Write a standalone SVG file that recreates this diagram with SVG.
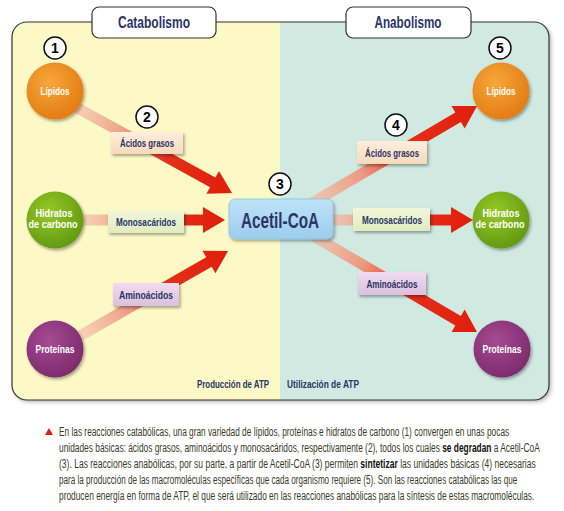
<svg xmlns="http://www.w3.org/2000/svg" width="564" height="511" viewBox="0 0 564 511">
<defs>
<style>
.navy{fill:#2b3566;font-family:"Liberation Sans",Arial,sans-serif;font-weight:bold}
.lbl{font-size:11px;text-anchor:middle}
.wt{fill:#ffffff;font-family:"Liberation Sans",Arial,sans-serif;font-weight:bold;font-size:10.5px;text-anchor:middle}
.num{fill:#000;font-family:"Liberation Sans",Arial,sans-serif;font-weight:bold;font-size:14px;text-anchor:middle}
.numc{fill:#fff;stroke:#111;stroke-width:1.5}
.cap{fill:#3a3a2c;font-family:"Liberation Sans",Arial,sans-serif;font-size:12px}
.tab{fill:#fff;stroke:#333;stroke-width:1.2}
</style>
<filter id="sh" x="-30%" y="-30%" width="160%" height="160%">
<feDropShadow dx="1.5" dy="2" stdDeviation="1.5" flood-color="#000" flood-opacity="0.35"/>
</filter>
<filter id="psh" x="-5%" y="-5%" width="110%" height="110%">
<feDropShadow dx="2" dy="2" stdDeviation="2" flood-color="#000" flood-opacity="0.3"/>
</filter>
<linearGradient id="arr" x1="0" y1="0" x2="1" y2="0">
<stop offset="0" stop-color="#f3c6b2" stop-opacity="0.7"/>
<stop offset="0.35" stop-color="#ec9a80"/>
<stop offset="0.6" stop-color="#e3301a"/>
<stop offset="1" stop-color="#e01e0a"/>
</linearGradient>
<radialGradient id="gOr" cx="0.4" cy="0.35" r="0.7">
<stop offset="0" stop-color="#f7a73a"/><stop offset="1" stop-color="#e27a10"/>
</radialGradient>
<radialGradient id="gGr" cx="0.4" cy="0.35" r="0.7">
<stop offset="0" stop-color="#98c826"/><stop offset="1" stop-color="#5f9812"/>
</radialGradient>
<radialGradient id="gPu" cx="0.4" cy="0.35" r="0.7">
<stop offset="0" stop-color="#a64a92"/><stop offset="1" stop-color="#7b2a6b"/>
</radialGradient>
<linearGradient id="gBl" x1="0" y1="0" x2="0" y2="1">
<stop offset="0" stop-color="#bfe3f7"/><stop offset="1" stop-color="#9bcdee"/>
</linearGradient>
<linearGradient id="gPe" x1="0" y1="0" x2="0" y2="1">
<stop offset="0" stop-color="#fdeedd"/><stop offset="1" stop-color="#f7d9ba"/>
</linearGradient>
<linearGradient id="gLg" x1="0" y1="0" x2="0" y2="1">
<stop offset="0" stop-color="#f1f6d9"/><stop offset="1" stop-color="#dfecbf"/>
</linearGradient>
<linearGradient id="gLv" x1="0" y1="0" x2="0" y2="1">
<stop offset="0" stop-color="#f0dcf0"/><stop offset="1" stop-color="#dcc0de"/>
</linearGradient>
<clipPath id="pc"><rect x="12" y="22" width="537" height="378" rx="15"/></clipPath>
</defs>

<g id="panel">
<rect x="12" y="22" width="537" height="378" rx="15" fill="#fff" filter="url(#psh)"/>
<g clip-path="url(#pc)">
<rect x="12" y="22" width="268" height="378" fill="#fdf9c6"/>
<rect x="280" y="22" width="269" height="378" fill="#d0eae2"/>
</g>
<rect x="12" y="22" width="537" height="378" rx="15" fill="none" stroke="#333" stroke-width="1.2"/>
</g>

<g id="tab-catabolismo">
<rect class="tab" x="92" y="7" width="124" height="31" rx="7"/>
<text class="navy" x="154" y="28" font-size="16" text-anchor="middle" textLength="72" lengthAdjust="spacingAndGlyphs">Catabolismo</text>
</g>
<g id="tab-anabolismo">
<rect class="tab" x="346" y="7" width="125" height="31" rx="7"/>
<text class="navy" x="408" y="28" font-size="16" text-anchor="middle" textLength="67" lengthAdjust="spacingAndGlyphs">Anabolismo</text>
</g>

<g id="connectors">
<polygon points="0,-5.5 160.6,-5.5 160.6,-13 182.6,0 160.6,13 160.6,5.5 0,5.5" fill="url(#arr)" transform="translate(72,105) rotate(28.8)"/>
<polygon points="0,-5.5 123,-5.5 123,-13 145,0 123,13 123,5.5 0,5.5" fill="url(#arr)" transform="translate(80,220)"/>
<polygon points="0,-5.5 150.9,-5.5 150.9,-13 172.9,0 150.9,13 150.9,5.5 0,5.5" fill="url(#arr)" transform="translate(78,337) rotate(-29.8)"/>
<polygon points="0,-5.5 183.3,-5.5 183.3,-13 205.3,0 183.3,13 183.3,5.5 0,5.5" fill="url(#arr)" transform="translate(300,210) rotate(-30.4)"/>
<polygon points="0,-5.5 131,-5.5 131,-13 153,0 131,13 131,5.5 0,5.5" fill="url(#arr)" transform="translate(320,220)"/>
<polygon points="0,-5.5 183.3,-5.5 183.3,-13 205.3,0 183.3,13 183.3,5.5 0,5.5" fill="url(#arr)" transform="translate(300,228) rotate(30.4)"/>
</g>

<g id="n1"><circle class="numc" cx="55" cy="48" r="11"/><text class="num" x="55" y="53">1</text></g>
<g id="n2"><circle class="numc" cx="147" cy="117" r="11"/><text class="num" x="147" y="122">2</text></g>
<g id="n3"><circle class="numc" cx="280" cy="184" r="11"/><text class="num" x="280" y="189">3</text></g>
<g id="n4"><circle class="numc" cx="396" cy="125" r="11"/><text class="num" x="396" y="130">4</text></g>
<g id="n5"><circle class="numc" cx="500" cy="48" r="11"/><text class="num" x="500" y="53">5</text></g>

<g id="lipidos-left"><circle cx="55" cy="91" r="28.5" fill="url(#gOr)" filter="url(#sh)"/><text class="wt" x="55" y="95" textLength="29" lengthAdjust="spacingAndGlyphs">Lípidos</text></g>
<g id="hidratos-left"><circle cx="55" cy="220" r="28.5" fill="url(#gGr)" filter="url(#sh)"/><text class="wt" x="54" y="217" textLength="37" lengthAdjust="spacingAndGlyphs">Hidratos</text><text class="wt" x="53" y="228" textLength="49" lengthAdjust="spacingAndGlyphs">de carbono</text></g>
<g id="proteinas-left"><circle cx="55" cy="349" r="28.5" fill="url(#gPu)" filter="url(#sh)"/><text class="wt" x="55" y="353" textLength="39" lengthAdjust="spacingAndGlyphs">Proteínas</text></g>

<g id="lipidos-right"><circle cx="501" cy="91" r="28.5" fill="url(#gOr)" filter="url(#sh)"/><text class="wt" x="501" y="95" textLength="29" lengthAdjust="spacingAndGlyphs">Lípidos</text></g>
<g id="hidratos-right"><circle cx="501" cy="220" r="28.5" fill="url(#gGr)" filter="url(#sh)"/><text class="wt" x="501" y="217" textLength="37" lengthAdjust="spacingAndGlyphs">Hidratos</text><text class="wt" x="500" y="228" textLength="49" lengthAdjust="spacingAndGlyphs">de carbono</text></g>
<g id="proteinas-right"><circle cx="502" cy="349" r="28.5" fill="url(#gPu)" filter="url(#sh)"/><text class="wt" x="502" y="353" textLength="39" lengthAdjust="spacingAndGlyphs">Proteínas</text></g>

<g id="acetil-coa"><rect x="229" y="199" width="104" height="40" rx="6" fill="url(#gBl)" stroke="#8cc0e0" stroke-width="0.8" filter="url(#sh)"/><text class="navy" x="280" y="228" font-size="22" text-anchor="middle" textLength="78" lengthAdjust="spacingAndGlyphs">Acetil-CoA</text></g>

<g id="acidos-left"><rect x="111" y="132" width="72" height="22" fill="url(#gPe)" filter="url(#sh)"/><text class="navy lbl" x="147" y="147" textLength="54" lengthAdjust="spacingAndGlyphs">Ácidos grasos</text></g>
<g id="mono-left"><rect x="108" y="211" width="76" height="22" fill="url(#gLg)" filter="url(#sh)"/><text class="navy lbl" x="146" y="226" textLength="60" lengthAdjust="spacingAndGlyphs">Monosacáridos</text></g>
<g id="amino-left"><rect x="113" y="283" width="66" height="23" fill="url(#gLv)" filter="url(#sh)"/><text class="navy lbl" x="146" y="299" textLength="54" lengthAdjust="spacingAndGlyphs">Aminoácidos</text></g>
<g id="acidos-right"><rect x="357" y="141" width="70" height="23" fill="url(#gPe)" filter="url(#sh)"/><text class="navy lbl" x="392" y="157" textLength="54" lengthAdjust="spacingAndGlyphs">Ácidos grasos</text></g>
<g id="mono-right"><rect x="353" y="208" width="77" height="23" fill="url(#gLg)" filter="url(#sh)"/><text class="navy lbl" x="392" y="224" textLength="60" lengthAdjust="spacingAndGlyphs">Monosacáridos</text></g>
<g id="amino-right"><rect x="358" y="272" width="68" height="23" fill="url(#gLv)" filter="url(#sh)"/><text class="navy lbl" x="392" y="288" textLength="51" lengthAdjust="spacingAndGlyphs">Aminoácidos</text></g>

<text class="navy" x="197" y="388" font-size="10.5" textLength="72" lengthAdjust="spacingAndGlyphs">Producción de ATP</text>
<text class="navy" x="287" y="388" font-size="10.5" textLength="72" lengthAdjust="spacingAndGlyphs">Utilización de ATP</text>

<g id="caption">
<polygon points="45,435 49,428 53,435" fill="#e01e0a"/>
<text class="cap" transform="translate(59,436) scale(0.68,1)" x="0" y="0" textLength="662" lengthAdjust="spacingAndGlyphs">En las reacciones catabólicas, una gran variedad de lípidos, proteínas e hidratos de carbono (1) convergen en unas pocas</text>
<text class="cap" transform="translate(59,452) scale(0.68,1)" x="0" y="0" textLength="707" lengthAdjust="spacingAndGlyphs">unidades básicas: ácidos grasos, aminoácidos y monosacáridos, respectivamente (2), todos los cuales <tspan font-weight="bold" fill="#111">se degradan</tspan> a Acetil-CoA</text>
<text class="cap" transform="translate(59,468) scale(0.68,1)" x="0" y="0" textLength="701" lengthAdjust="spacingAndGlyphs">(3). Las reacciones anabólicas, por su parte, a partir de Acetil-CoA (3) permiten <tspan font-weight="bold" fill="#111">sintetizar</tspan> las unidades básicas (4) necesarias</text>
<text class="cap" transform="translate(59,484) scale(0.68,1)" x="0" y="0" textLength="674" lengthAdjust="spacingAndGlyphs">para la producción de las macromoléculas específicas que cada organismo requiere (5). Son las reacciones catabólicas las que</text>
<text class="cap" transform="translate(59,500) scale(0.68,1)" x="0" y="0" textLength="699" lengthAdjust="spacingAndGlyphs">producen energía en forma de ATP, el que será utilizado en las reacciones anabólicas para la síntesis de estas macromoléculas.</text>
</g>
</svg>
